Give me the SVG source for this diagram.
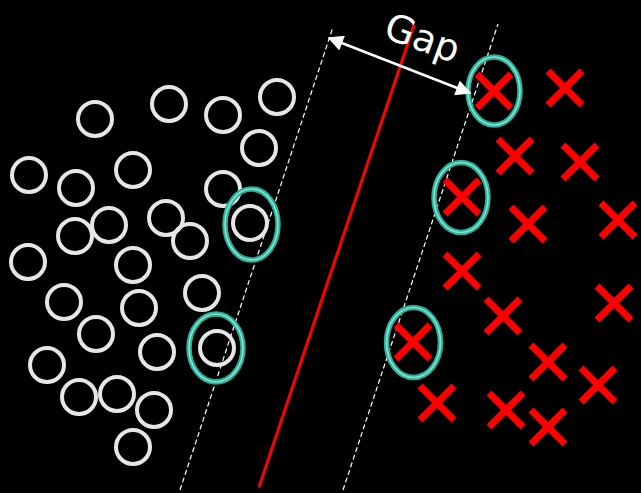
<svg xmlns="http://www.w3.org/2000/svg" width="641" height="493" viewBox="0 0 641 493">
<defs>
<style>
.o{fill:none;stroke:#e6e6e6;stroke-width:4}
.x{stroke:#ff0000;stroke-width:7;fill:none}
.sv{fill:none;stroke:#2fae99;stroke-width:5.5}
.svh{fill:none;stroke:#7fe6d4;stroke-width:1.6}
.dash{stroke:#ffffff;stroke-width:1.2;stroke-dasharray:5,3;fill:none}
</style>
<symbol id="cx" overflow="visible"><path class="x" d="M-17,-17L17,17M17,-17L-17,17"/></symbol>
<marker id="ah" viewBox="0 0 10 10" refX="9" refY="5" markerWidth="6.5" markerHeight="6" orient="auto-start-reverse" markerUnits="strokeWidth"><path d="M0,0L10,5L0,10z" fill="#ffffff"/></marker>
</defs>
<rect width="641" height="493" fill="#000000"/>
<g id="boundary">
<line x1="259" y1="487" x2="414" y2="25" stroke="#ff0000" stroke-width="3"/>
<line class="dash" x1="180" y1="490" x2="333" y2="27"/>
<line class="dash" x1="343" y1="490" x2="498" y2="24"/>
</g>
<g id="class-o">
<circle class="o" cx="95" cy="119" r="17"/>
<circle class="o" cx="169" cy="104" r="17"/>
<circle class="o" cx="223" cy="115" r="17"/>
<circle class="o" cx="277" cy="97" r="17"/>
<circle class="o" cx="259" cy="148" r="17"/>
<circle class="o" cx="29" cy="175" r="17"/>
<circle class="o" cx="76" cy="188" r="17"/>
<circle class="o" cx="133" cy="170" r="17"/>
<circle class="o" cx="223" cy="189" r="17"/>
<circle class="o" cx="250" cy="223" r="17"/>
<circle class="o" cx="166" cy="218" r="17"/>
<circle class="o" cx="190" cy="241" r="17"/>
<circle class="o" cx="109" cy="225" r="17"/>
<circle class="o" cx="75" cy="236" r="17"/>
<circle class="o" cx="28" cy="262" r="17"/>
<circle class="o" cx="133" cy="265" r="17"/>
<circle class="o" cx="202" cy="293" r="17"/>
<circle class="o" cx="64" cy="302" r="17"/>
<circle class="o" cx="139" cy="308" r="17"/>
<circle class="o" cx="96" cy="334" r="17"/>
<circle class="o" cx="157" cy="352" r="17"/>
<circle class="o" cx="217" cy="348" r="17"/>
<circle class="o" cx="47" cy="365" r="17"/>
<circle class="o" cx="79" cy="397" r="17"/>
<circle class="o" cx="117" cy="394" r="17"/>
<circle class="o" cx="154" cy="410" r="17"/>
<circle class="o" cx="133" cy="447" r="17"/>
</g>
<g id="class-x">
<use href="#cx" x="494" y="91"/>
<use href="#cx" x="565" y="88"/>
<use href="#cx" x="515" y="156"/>
<use href="#cx" x="580" y="162"/>
<use href="#cx" x="462" y="197"/>
<use href="#cx" x="528" y="224"/>
<use href="#cx" x="618" y="220"/>
<use href="#cx" x="462" y="271"/>
<use href="#cx" x="503" y="316"/>
<use href="#cx" x="614" y="303"/>
<use href="#cx" x="413" y="342"/>
<use href="#cx" x="548" y="362"/>
<use href="#cx" x="598" y="385"/>
<use href="#cx" x="437" y="403"/>
<use href="#cx" x="506" y="410"/>
<use href="#cx" x="548" y="427"/>
</g>
<g id="support-vectors">
<ellipse class="sv" cx="251.5" cy="224.5" rx="26.5" ry="35.5"/>
<ellipse class="svh" cx="251.5" cy="224.5" rx="26.5" ry="35.5"/>
<ellipse class="sv" cx="216" cy="348" rx="27" ry="34"/>
<ellipse class="svh" cx="216" cy="348" rx="27" ry="34"/>
<ellipse class="sv" cx="461" cy="197.5" rx="27" ry="35"/>
<ellipse class="svh" cx="461" cy="197.5" rx="27" ry="35"/>
<ellipse class="sv" cx="413.5" cy="342.5" rx="27" ry="35"/>
<ellipse class="svh" cx="413.5" cy="342.5" rx="27" ry="35"/>
<ellipse class="sv" cx="494" cy="91" rx="26" ry="34"/>
<ellipse class="svh" cx="494" cy="91" rx="26" ry="34"/>
</g>
<g id="connectors">
<line x1="329" y1="38" x2="470" y2="93" stroke="#ffffff" stroke-width="2.6" marker-start="url(#ah)" marker-end="url(#ah)"/>
</g>
<g id="gap-label">
<text x="382" y="37" transform="rotate(20 382 37)" font-family="'URW Gothic','DejaVu Sans',sans-serif" font-size="38" fill="#ffffff">Gap</text>
</g>
</svg>
